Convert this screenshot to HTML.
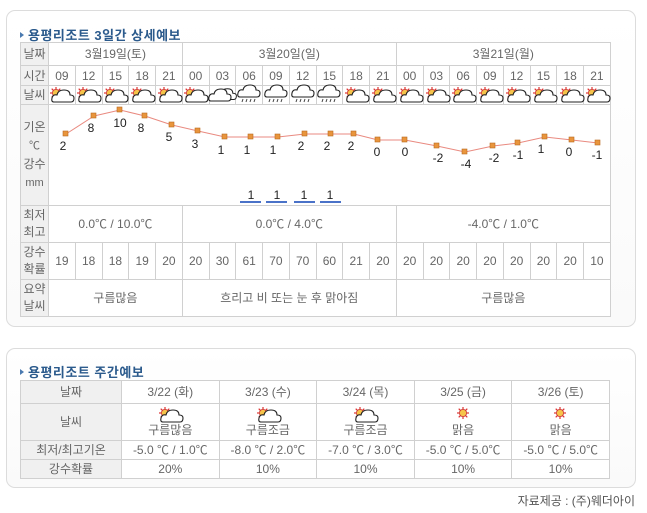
<!DOCTYPE html>
<html><head><meta charset="utf-8">
<style>
*{margin:0;padding:0;box-sizing:border-box}
body{width:647px;height:513px;background:#fff;position:relative;overflow:hidden;font-family:"Liberation Sans","Noto Sans CJK KR","NanumGothic",sans-serif;color:#555;font-size:12px}
.box{position:absolute;border:1px solid #dcdcdc;border-radius:9px;background:linear-gradient(#fff,#fafafa)}
.title{position:absolute;font-weight:bold;font-size:13px;color:#2b5a8c;letter-spacing:0.5px}
.title:before{content:"";display:inline-block;border-left:4px solid #4a7ab0;border-top:3px solid transparent;border-bottom:3px solid transparent;margin-right:4px;vertical-align:2px}
table{position:absolute;border-collapse:collapse;table-layout:fixed;background:#fff}
td{border:1px solid #d0d0d0;text-align:center;vertical-align:middle;padding:0;font-size:12px;color:#666;line-height:14px;overflow:hidden;white-space:nowrap}
td.h{background:#f0f0f0;color:#666}
</style></head><body>
<div class="box" style="left:6px;top:10px;width:630px;height:317px"></div>
<div class="title" style="left:20px;top:25px">용평리조트 3일간 상세예보</div>
<table style="left:20px;top:42px;width:590px">
<colgroup><col style="width:28px"><col span="21" style="width:26.76px"></colgroup>
<tr style="height:23px"><td class="h">날짜</td><td colspan="5">3월19일(토)</td><td colspan="8">3월20일(일)</td><td colspan="8">3월21일(월)</td></tr>
<tr style="height:20px"><td class="h">시간</td><td>09</td><td>12</td><td>15</td><td>18</td><td>21</td><td>00</td><td>03</td><td>06</td><td>09</td><td>12</td><td>15</td><td>18</td><td>21</td><td>00</td><td>03</td><td>06</td><td>09</td><td>12</td><td>15</td><td>18</td><td>21</td></tr>
<tr style="height:19px"><td class="h">날씨</td><td></td><td></td><td></td><td></td><td></td><td></td><td></td><td></td><td></td><td></td><td></td><td></td><td></td><td></td><td></td><td></td><td></td><td></td><td></td><td></td><td></td></tr>
<tr style="height:101px"><td class="h" style="line-height:18px">기온<br><span style="font-size:11px">℃</span><br>강수<br><span style="font-size:11px">mm</span></td><td colspan="21" style="border-top:1px solid #d0d0d0"></td></tr>
<tr style="height:37px"><td class="h" style="line-height:17px">최저<br>최고</td><td colspan="5">0.0℃ / 10.0℃</td><td colspan="8">0.0℃ / 4.0℃</td><td colspan="8">-4.0℃ / 1.0℃</td></tr>
<tr style="height:37px"><td class="h" style="line-height:17px">강수<br>확률</td><td>19</td><td>18</td><td>18</td><td>19</td><td>20</td><td>20</td><td>30</td><td>61</td><td>70</td><td>70</td><td>60</td><td>21</td><td>20</td><td>20</td><td>20</td><td>20</td><td>20</td><td>20</td><td>20</td><td>20</td><td>10</td></tr>
<tr style="height:37px"><td class="h" style="line-height:17px">요약<br>날씨</td><td colspan="5">구름많음</td><td colspan="8">흐리고 비 또는 눈 후 맑아짐</td><td colspan="8">구름많음</td></tr>
</table>

<div class="box" style="left:6px;top:348px;width:630px;height:140px"></div>
<div class="title" style="left:20px;top:362px">용평리조트 주간예보</div>
<table style="left:20px;top:380px;width:589px">
<colgroup><col style="width:101px"><col span="5" style="width:97.6px"></colgroup>
<tr style="height:23px"><td class="h">날짜</td><td>3/22 (화)</td><td>3/23 (수)</td><td>3/24 (목)</td><td>3/25 (금)</td><td>3/26 (토)</td></tr>
<tr style="height:37px"><td class="h">날씨</td><td style="padding-top:16px">구름많음</td><td style="padding-top:16px">구름조금</td><td style="padding-top:16px">구름조금</td><td style="padding-top:16px">맑음</td><td style="padding-top:16px">맑음</td></tr>
<tr style="height:19px"><td class="h">최저/최고기온</td><td>-5.0 ℃ / 1.0℃</td><td>-8.0 ℃ / 2.0℃</td><td>-7.0 ℃ / 3.0℃</td><td>-5.0 ℃ / 5.0℃</td><td>-5.0 ℃ / 5.0℃</td></tr>
<tr style="height:19px"><td class="h">강수확률</td><td>20%</td><td>10%</td><td>10%</td><td>10%</td><td>10%</td></tr>
</table>
<div style="position:absolute;right:12px;top:492px;font-size:12px;color:#555">자료제공 : (주)웨더아이</div>

<svg width="647" height="513" style="position:absolute;left:0;top:0" xmlns="http://www.w3.org/2000/svg">
<defs>
<g id="sun"><g stroke="#d33" stroke-width="1.2"><line x1="-6" y1="0" x2="6" y2="0"/><line x1="0" y1="-6" x2="0" y2="6"/><line x1="-4.3" y1="-4.3" x2="4.3" y2="4.3"/><line x1="-4.3" y1="4.3" x2="4.3" y2="-4.3"/></g><circle r="3.6" fill="#f6c44a" stroke="#c33" stroke-width="0.8"/></g>
<path id="cl" d="M-9,5 Q-12,5 -11,1 Q-10,-3 -6,-2 Q-5,-7 1,-7 Q7,-7 7,-2 Q11,-2 11,1 Q11,5 8,5 Z" fill="#fff" stroke="#222" stroke-width="1.1"/>
<g id="pc"><use href="#sun" x="-5" y="-2"/><use href="#cl" x="2" y="2"/></g>
<g id="cc"><use href="#cl" x="5" y="0" transform="scale(0.9)"/><use href="#cl" x="-2" y="1"/></g>
<g id="rn"><use href="#cl" x="0" y="-2"/><g stroke="#444" stroke-width="1"><line x1="-6" y1="5" x2="-7" y2="8"/><line x1="-2" y1="5" x2="-3" y2="8"/><line x1="2" y1="5" x2="1" y2="8"/><line x1="6" y1="5" x2="5" y2="8"/></g></g>
</defs>
<g>
<use href="#pc" x="61" y="95"/><use href="#pc" x="88" y="95"/><use href="#pc" x="115" y="95"/><use href="#pc" x="142" y="95"/><use href="#pc" x="169" y="95"/><use href="#pc" x="195" y="95"/>
<use href="#cc" x="222" y="95"/><use href="#rn" x="249" y="94"/><use href="#rn" x="276" y="94"/><use href="#rn" x="303" y="94"/><use href="#rn" x="329" y="94"/>
<use href="#pc" x="356" y="95"/><use href="#pc" x="383" y="95"/><use href="#pc" x="410" y="95"/><use href="#pc" x="437" y="95"/><use href="#pc" x="463" y="95"/><use href="#pc" x="490" y="95"/><use href="#pc" x="517" y="95"/><use href="#pc" x="544" y="95"/><use href="#pc" x="571" y="95"/><use href="#pc" x="597" y="95"/>
</g>
<g>
<use href="#pc" x="170" y="415"/><use href="#pc" x="268" y="415"/><use href="#pc" x="365" y="415"/><use href="#sun" x="463" y="413"/><use href="#sun" x="560" y="413"/>
</g>
<polyline fill="none" stroke="#e98a80" stroke-width="1" points="66,134 94,116 120,110 145,116 172,125 198,131 225,137 251,137 278,137 305,134 331,134 354,134 378,140 405,140 437,146 465,152 493,146 518,143 545,137 572,140 598,143"/>
<g fill="#e9953c" stroke="#b96a20" stroke-width="0.6">
<rect x="63" y="131" width="5" height="5"/><rect x="91" y="113" width="5" height="5"/><rect x="117" y="107" width="5" height="5"/><rect x="142" y="113" width="5" height="5"/><rect x="169" y="122" width="5" height="5"/><rect x="195" y="128" width="5" height="5"/><rect x="222" y="134" width="5" height="5"/><rect x="248" y="134" width="5" height="5"/><rect x="275" y="134" width="5" height="5"/><rect x="302" y="131" width="5" height="5"/><rect x="328" y="131" width="5" height="5"/><rect x="351" y="131" width="5" height="5"/><rect x="375" y="137" width="5" height="5"/><rect x="402" y="137" width="5" height="5"/><rect x="434" y="143" width="5" height="5"/><rect x="462" y="149" width="5" height="5"/><rect x="490" y="143" width="5" height="5"/><rect x="515" y="140" width="5" height="5"/><rect x="542" y="134" width="5" height="5"/><rect x="569" y="137" width="5" height="5"/><rect x="595" y="140" width="5" height="5"/>
</g>
<g font-family="Liberation Sans, sans-serif" font-size="12" fill="#222" text-anchor="middle">
<text x="63" y="150">2</text><text x="91" y="132">8</text><text x="120" y="127">10</text><text x="141" y="132">8</text><text x="169" y="141">5</text><text x="195" y="148">3</text><text x="221" y="154">1</text><text x="247" y="154">1</text><text x="273" y="154">1</text><text x="301" y="150">2</text><text x="327" y="150">2</text><text x="351" y="150">2</text><text x="377" y="156">0</text><text x="405" y="156">0</text><text x="438" y="162">-2</text><text x="466" y="168">-4</text><text x="494" y="162">-2</text><text x="518" y="159">-1</text><text x="541" y="153">1</text><text x="569" y="156">0</text><text x="597" y="159">-1</text>
<text x="251" y="199">1</text><text x="277" y="199">1</text><text x="304" y="199">1</text><text x="330" y="199">1</text>
</g>
<g fill="#4a72c8"><rect x="240" y="201" width="21" height="2"/><rect x="266" y="201" width="21" height="2"/><rect x="294" y="201" width="21" height="2"/><rect x="320" y="201" width="21" height="2"/></g>
</svg>
</body></html>
